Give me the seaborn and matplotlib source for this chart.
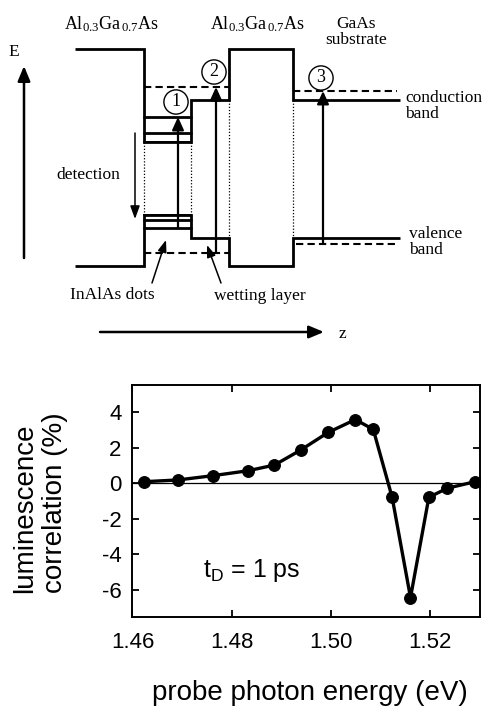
import matplotlib
matplotlib.use("Agg")
import matplotlib.pyplot as plt
import seaborn as sns
import pandas as pd

# ---- probe scan: luminescence correlation vs. probe photon energy ----
energy = [1.4624, 1.4692, 1.4762, 1.4833, 1.4886, 1.4939, 1.4994,
          1.5049, 1.5085, 1.5123, 1.5160, 1.5197, 1.5234, 1.5290]
correlation = [0.09, 0.19, 0.43, 0.71, 1.03, 1.88, 2.87,
               3.60, 3.04, -0.79, -6.45, -0.79, -0.28, 0.09]
x_ticks = [1.46, 1.48, 1.50, 1.52]
y_ticks = [-6, -4, -2, 0, 2, 4]

# ---- band diagram (z along the growth axis, E upwards, arbitrary units) ----
layer_edges = [75, 144, 191, 229, 293, 400]   # barrier | dots | WL | barrier | GaAs
cb_edge = [311, 218, 260, 311, 260]
vb_edge = [94, 145, 122, 94, 122]
dot_cb_levels = [243, 227]
dot_vb_levels = [140, 132]
cb_states = [(144, 229, 273), (293, 397, 269)]      # (z start, z end, E)
vb_states = [(144, 229, 107), (296, 397, 116)]
transitions = [(178, 132, 243, "1"), (216, 107, 273, "2"), (323, 116, 269, "3")]
transition_labels = [(176, 258), (214, 288), (321, 282)]

sns.set_theme(style="ticks")
plt.rcParams["font.family"] = ["Liberation Sans", "DejaVu Sans"]
plt.rcParams["mathtext.fontset"] = "custom"
plt.rcParams["mathtext.rm"] = "Liberation Serif"
plt.rcParams["mathtext.sf"] = "Liberation Sans"
for key in ("text.color", "axes.labelcolor", "xtick.color", "ytick.color",
            "axes.edgecolor"):
    plt.rcParams[key] = "black"

fig = plt.figure(figsize=(4.85, 7.06), dpi=100)

# ================= band diagram =================
ax_d = fig.add_axes([0, 346 / 706, 1, 360 / 706])
ax_d.set_xlim(0, 485)
ax_d.set_ylim(0, 360)
ax_d.axis("off")

serif = ["Liberation Serif", "DejaVu Serif"]
fs = 12.5
lw_band = 2.0

ax_d.stairs(cb_edge, layer_edges, baseline=None, color="black", lw=lw_band)
ax_d.stairs(vb_edge, layer_edges, baseline=None, color="black", lw=lw_band)

z_dot0, z_dot1 = layer_edges[1], layer_edges[2]
for lev in dot_cb_levels + dot_vb_levels:
    ax_d.plot([z_dot0, z_dot1], [lev, lev], color="black", lw=lw_band)
# thin caps of the dot boxes
ax_d.plot([z_dot0, z_dot1], [cb_edge[1], cb_edge[1]], color="black", lw=1.4)
ax_d.plot([z_dot0, z_dot1], [vb_edge[1], vb_edge[1]], color="black", lw=1.4)

for z0, z1, e in cb_states + vb_states:
    ax_d.plot([z0, z1], [e, e], color="black", lw=1.5, ls=(0, (3.5, 2)))

# dotted guides at the interfaces
for i, z in enumerate(layer_edges[1:5]):
    if i < 2:
        top, bot = cb_edge[1], vb_edge[1]
    else:
        top, bot = cb_edge[2], vb_edge[2]
    ax_d.plot([z, z], [top, bot], color="black", lw=0.9, ls=(0, (1, 1.5)))

# optical transitions
for (z, e0, e1, lab), (cx, cy) in zip(transitions, transition_labels):
    ax_d.annotate("", xy=(z, e1), xytext=(z, e0),
                  arrowprops=dict(arrowstyle="-|>,head_length=0.55,head_width=0.25",
                                  color="black", lw=1.6, shrinkA=0, shrinkB=0,
                                  mutation_scale=14))
    ax_d.text(cx, cy, lab, ha="center", va="center", fontsize=13, family=serif,
              bbox=dict(boxstyle="circle,pad=0.2", fc="white", ec="black", lw=1.0))

# detection arrow
ax_d.annotate("", xy=(135, 141), xytext=(135, 227),
              arrowprops=dict(arrowstyle="-|>,head_length=0.6,head_width=0.22",
                              color="black", lw=1.1, shrinkA=0, shrinkB=0,
                              mutation_scale=13))
ax_d.text(88, 185, "detection", ha="center", va="center", fontsize=fs, family=serif)

# energy axis and growth axis
ax_d.annotate("", xy=(24, 294), xytext=(24, 102),
              arrowprops=dict(arrowstyle="-|>,head_length=0.6,head_width=0.25",
                              color="black", lw=1.8, shrinkA=0, shrinkB=0,
                              mutation_scale=15))
ax_d.text(14, 308, "E", ha="center", va="center", fontsize=fs, family=serif)
ax_d.annotate("", xy=(324, 28), xytext=(100, 28),
              arrowprops=dict(arrowstyle="-|>,head_length=0.6,head_width=0.25",
                              color="black", lw=1.8, shrinkA=0, shrinkB=0,
                              mutation_scale=15))
ax_d.text(342, 26, "z", ha="center", va="center", fontsize=fs, family=serif)

# layer names
ax_d.text(112, 336, r"$\mathrm{Al_{0.3}Ga_{\,0.7}As}$", ha="center", va="center",
          fontsize=fs + 0.5)
ax_d.text(258, 336, r"$\mathrm{Al_{0.3}Ga_{\,0.7}As}$", ha="center", va="center",
          fontsize=fs + 0.5)
ax_d.text(356, 328, "GaAs\nsubstrate", ha="center", va="center", fontsize=fs,
          family=serif, linespacing=1.05)
ax_d.text(405, 254, "conduction\nband", ha="left", va="center", fontsize=fs,
          family=serif, linespacing=1.05)
ax_d.text(409, 118, "valence\nband", ha="left", va="center", fontsize=fs,
          family=serif, linespacing=1.05)

# pointers to the dots and the wetting layer
ax_d.text(112, 65, "InAlAs dots", ha="center", va="center", fontsize=fs,
          family=serif)
ax_d.text(260, 64, "wetting layer", ha="center", va="center", fontsize=fs,
          family=serif)
pointer = dict(arrowstyle="-|>,head_length=0.6,head_width=0.22", color="black",
               lw=1.1, shrinkA=0, shrinkB=0, mutation_scale=12)
ax_d.annotate("", xy=(166, 120), xytext=(152, 77), arrowprops=pointer)
ax_d.annotate("", xy=(207, 115), xytext=(221, 77), arrowprops=pointer)

# ================= correlation spectrum =================
ax = fig.add_axes([132.5 / 485, 89 / 706, 347.5 / 485, 232 / 706])
df = pd.DataFrame({"energy": energy, "correlation": correlation})
ax.axhline(0, color="black", lw=0.9, zorder=1)
sns.lineplot(data=df, x="energy", y="correlation", ax=ax, color="black",
             lw=2.4, marker="o", markersize=8.5, markeredgecolor="black",
             markerfacecolor="black", zorder=3)

ax.set_xlim(1.46, 1.53)
ax.set_ylim(-7.55, 5.55)
ax.set_xticks(x_ticks)
ax.set_xticklabels([f"{t:.2f}" for t in x_ticks])
ax.set_yticks(y_ticks)
ax.set_yticklabels([str(t) for t in y_ticks])
ax.tick_params(direction="in", top=True, right=True, length=5, width=1.3,
               labelsize=16, color="black", labelcolor="black")
ax.tick_params(axis="x", pad=11)
ax.tick_params(axis="y", pad=8)
for s in ax.spines.values():
    s.set_visible(True)
    s.set_linewidth(1.4)
    s.set_color("black")
ax.set_xlabel("")
ax.set_ylabel("")

ax.text((203 - 132.5) / 347.5, (617 - 577) / 232, r"$\mathsf{t_D}$ = 1 ps",
        transform=ax.transAxes, ha="left", va="baseline", fontsize=18)

fig.text(40 / 485, (706 - 593) / 706, "luminescence\ncorrelation (%)",
         rotation=90, ha="center", va="bottom", multialignment="left",
         fontsize=20)
fig.text(310 / 485, (706 - 700) / 706, "probe photon energy (eV)",
         ha="center", va="baseline", fontsize=20)

fig.savefig("out.png", dpi=100)
